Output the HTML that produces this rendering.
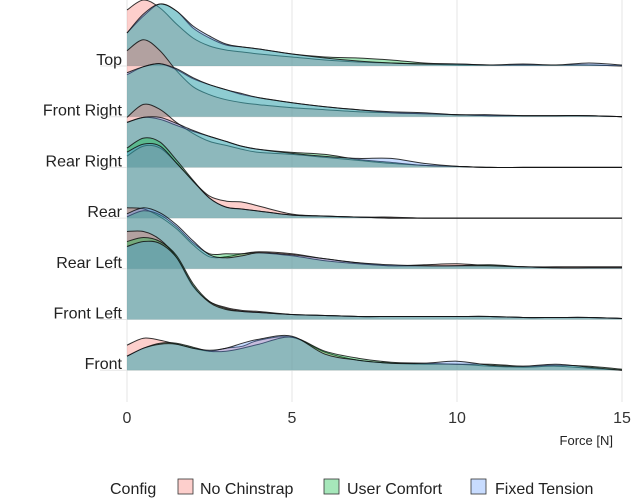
<!DOCTYPE html>
<html><head><meta charset="utf-8">
<style>
html,body{margin:0;padding:0;background:#fff;}
body{width:642px;height:499px;overflow:hidden;font-family:"Liberation Sans",sans-serif;}
svg text{font-family:"Liberation Sans",sans-serif;}
</style></head>
<body>
<svg id="chart" width="642" height="499" viewBox="0 0 642 499" xmlns="http://www.w3.org/2000/svg">
<g id="grid"></g>
<g id="ridges"></g>
<g id="ylabels"></g>
<g id="xticks"></g>
<text x="613" y="445" text-anchor="end" font-size="13" fill="#222">Force [N]</text>
<g id="legend">
  <text x="110" y="494" font-size="16" fill="#222">Config</text>
  <rect x="178" y="479" width="15" height="15" fill="rgba(248,118,109,0.35)" stroke="#333" stroke-width="0.8"/>
  <text x="200" y="494" font-size="16" fill="#222">No Chinstrap</text>
  <rect x="324" y="479" width="15" height="15" fill="rgba(0,186,56,0.35)" stroke="#333" stroke-width="0.8"/>
  <text x="347" y="494" font-size="16" fill="#222">User Comfort</text>
  <rect x="471" y="479" width="15" height="15" fill="rgba(97,156,255,0.35)" stroke="#333" stroke-width="0.8"/>
  <text x="495" y="494" font-size="16" fill="#222">Fixed Tension</text>
</g>
</svg>
<script>
const categories = ["Top","Front Right","Rear Right","Rear","Rear Left","Front Left","Front"];
const xGrid = [0,0.5,1,1.5,2,2.5,3,3.5,4,5,6,7,8,9,10,11,12,13,14,15];
const xTicks = [0,5,10,15];
const seriesNames = ["No Chinstrap","User Comfort","Fixed Tension"];
const noChinstrap = [
 [56,66,58,42,28,20,16,14,12,9,6,4,3,2,1,1,1,1,1,0],
 [66,77,66,46,30,22,17,14,12,9,7,5,4,3,2,1,1,1,1,0],
 [50,63,58,45,34,26,22,18,15,13,10,7,4,2,1,0,0,0,0,0],
 [62,72,70,55,37,22,17,16,12,4,2,1,1,0,0,0,0,0,0,0],
 [61,60,52,40,24,12,12,15,17,15,10,6,3,4,5,3,2,2,2,2],
 [88,88,80,62,33,18,12,9,8,5,4,3,3,3,3,3,2,2,2,1],
 [25,32,30,26,22,19,22,24,30,33,18,10,7,6,6,4,3,4,2,0]
];
const userComfort = [
 [33,50,62,55,38,28,21,19,17,12,9,8,6,3,2,1,1,1,1,0],
 [42,50,53,47,38,32,27,22,19,14,10,7,4,3,2,1,1,1,1,0],
 [45,50,48,42,36,31,26,21,18,15,13,8,5,2,1,0,0,0,0,0],
 [70,80,76,58,38,20,11,9,7,3,2,1,0,0,0,0,0,0,0,0],
 [52,58,54,42,26,15,15,15,16,13,8,5,3,3,3,4,2,1,1,1],
 [78,82,78,64,36,18,11,8,7,5,4,3,3,3,3,3,2,2,2,1],
 [14,22,27,27,23,19,19,22,26,33,19,12,8,7,6,6,4,5,4,1]
];
const fixedTension = [
 [33,52,62,55,40,30,22,19,17,12,8,5,3,2,2,1,2,1,3,1],
 [44,50,53,48,39,32,27,23,19,14,10,7,5,4,2,2,1,1,1,0],
 [45,50,50,44,37,31,26,21,18,14,11,9,9,4,1,0,0,0,0,0],
 [66,74,72,55,37,20,11,9,7,3,2,1,0,0,0,0,0,0,0,0],
 [55,61,56,44,28,14,11,13,16,14,10,6,4,3,3,3,2,1,1,1],
 [73,78,76,62,34,17,10,8,7,5,4,3,3,3,3,3,2,2,2,1],
 [14,22,26,26,22,20,22,27,31,34,16,10,7,7,9,5,4,6,3,0]
];
const NS="http://www.w3.org/2000/svg";
const x0=127, pxPerUnit=33, base0=66, spacing=50.7, hScale=1;
const xs = v => x0 + v*pxPerUnit;
const yb = i => base0 + i*spacing;
const fills=["rgba(248,118,109,0.35)","rgba(0,186,56,0.35)","rgba(97,156,255,0.35)"];
const allSeries=[noChinstrap,userComfort,fixedTension];
const keys=["no-chinstrap","user-comfort","fixed-tension"];

const grid=document.getElementById('grid');
xTicks.forEach(t=>{
  const l=document.createElementNS(NS,'line');
  
  
  l.setAttribute('x1',xs(t));l.setAttribute('x2',xs(t));l.setAttribute('y1',0);l.setAttribute('y2',402);
  l.setAttribute('stroke','#e6e6e6');l.setAttribute('stroke-width','1');
  grid.appendChild(l);
});
categories.forEach((c,i)=>{
  const l=document.createElementNS(NS,'line');
  
  
  l.setAttribute('x1',100);l.setAttribute('x2',622);l.setAttribute('y1',yb(i));l.setAttribute('y2',yb(i));
  l.setAttribute('stroke','#e6e6e6');l.setAttribute('stroke-width','1');
  grid.appendChild(l);
});

function smooth(pts){
  let d=`M${pts[0][0]},${pts[0][1]}`;
  for(let i=0;i<pts.length-1;i++){
    const p0=pts[Math.max(0,i-1)],p1=pts[i],p2=pts[i+1],p3=pts[Math.min(pts.length-1,i+2)];
    const c1=[p1[0]+(p2[0]-p0[0])/6,p1[1]+(p2[1]-p0[1])/6];
    const c2=[p2[0]-(p3[0]-p1[0])/6,p2[1]-(p3[1]-p1[1])/6];
    d+=` C${c1[0].toFixed(1)},${c1[1].toFixed(1)} ${c2[0].toFixed(1)},${c2[1].toFixed(1)} ${p2[0].toFixed(1)},${p2[1].toFixed(1)}`;
  }
  return d;
}
const ridges=document.getElementById('ridges');
categories.forEach((c,i)=>{
  const g=document.createElementNS(NS,'g');
  
  
  allSeries.forEach((s,k)=>{
    const pts=xGrid.map((xv,j)=>[xs(xv),yb(i)-s[i][j]*hScale]);
    const line=smooth(pts);
    const area=document.createElementNS(NS,'path');
    
    
    area.setAttribute('d',line+` L${xs(xGrid[xGrid.length-1])},${yb(i)} L${xs(0)},${yb(i)} Z`);
    area.setAttribute('fill',fills[k]);
    g.appendChild(area);
    const ln=document.createElementNS(NS,'path');
    
    
    ln.setAttribute('d',line);
    ln.setAttribute('fill','none');ln.setAttribute('stroke','#111');ln.setAttribute('stroke-width','1');ln.setAttribute('stroke-opacity','0.85');
    g.appendChild(ln);
  });
  ridges.appendChild(g);
  const t=document.createElementNS(NS,'text');
  
  
  t.setAttribute('x',122);t.setAttribute('y',yb(i)-1);t.setAttribute('text-anchor','end');
  t.setAttribute('font-size','16');t.setAttribute('fill','#222');
  t.textContent=c;
  document.getElementById('ylabels').appendChild(t);
});
xTicks.forEach(v=>{
  const t=document.createElementNS(NS,'text');
  
  
  t.setAttribute('x',xs(v));t.setAttribute('y',423);t.setAttribute('text-anchor','middle');
  t.setAttribute('font-size','16');t.setAttribute('fill','#333');
  t.textContent=v;
  document.getElementById('xticks').appendChild(t);
});
</script>
</body></html>
